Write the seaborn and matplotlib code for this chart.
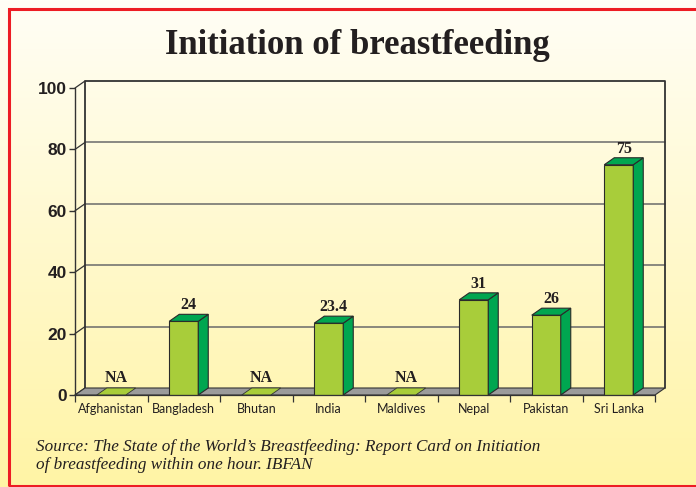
import numpy as np
import pandas as pd
import matplotlib
matplotlib.use("Agg")
import matplotlib.pyplot as plt
from matplotlib.patches import Polygon, Rectangle
import seaborn as sns

countries = ["Afghanistan", "Bangladesh", "Bhutan", "India", "Maldives", "Nepal", "Pakistan", "Sri Lanka"]
values = [None, 24, None, 23.4, None, 31, 26, 75]
value_labels = ["NA", "24", "NA", "23.4", "NA", "31", "26", "75"]
yticks = [0, 20, 40, 60, 80, 100]
title = "Initiation of breastfeeding"
source = ("Source: The State of the World\u2019s Breastfeeding: Report Card on Initiation\n"
          "of breastfeeding within one hour. IBFAN")

sns.set_theme(style="white")
plt.rcParams["font.family"] = ["Liberation Sans", "DejaVu Sans"]

W, H = 696, 487
fig = plt.figure(figsize=(W / 100, H / 100), dpi=100)

# background gradient
bg = fig.add_axes([0, 0, 1, 1], zorder=-10)
grad = np.linspace(0, 1, 256)[:, None]
c_top = np.array([255, 254, 246]) / 255
c_bot = np.array([255, 244, 165]) / 255
img = c_top[None, None, :] * (1 - grad[:, :, None]) + c_bot[None, None, :] * grad[:, :, None]
bg.imshow(img, aspect="auto", extent=[0, 1, 0, 1], origin="upper")
bg.set_xlim(0, 1); bg.set_ylim(0, 1)
bg.axis("off")
# red border (right side outside the picture)
bg.add_patch(Rectangle((9 / W, 1 - 486 / H), 2.0, (486 - 9) / H, fill=False,
                       edgecolor="#ED1C24", linewidth=2.2, transform=bg.transAxes, clip_on=False))

# main axes
x0, x1 = 75, 655
y0, y1 = 395, 88
ax = fig.add_axes([x0 / W, 1 - y0 / H, (x1 - x0) / W, (y0 - y1) / H])
ax.patch.set_alpha(0)

df = pd.DataFrame({"country": countries, "value": [0 if v is None else v for v in values]})
sns.barplot(data=df, x="country", y="value", color="#A8CD3A", saturation=1,
            width=0.4, edgecolor="#2a2a2a", linewidth=0.8, ax=ax, zorder=5)
ax.set_xlim(-0.5, len(countries) - 0.5)
ax.set_ylim(0, 100)

px_x = (x1 - x0) / len(countries)
px_y = (y0 - y1) / 100
dx = 10 / px_x
dy = 7 / px_y

xl, xr = -0.5, len(countries) - 0.5
edge = "#333333"
# floor
ax.add_patch(Polygon([(xl, 0), (xr, 0), (xr + dx, dy), (xl + dx, dy)], closed=True,
                     facecolor="#9B9B9B", edgecolor=edge, linewidth=0.8, zorder=2, clip_on=False))
# back wall gridlines
for t in yticks[1:-1]:
    ax.plot([xl + dx, xr + dx], [t + dy, t + dy], color="#6a6a6a", lw=1.1, zorder=1, clip_on=False)
for t in yticks:
    ax.plot([xl, xl + dx], [t, t + dy], color=edge, lw=0.9, zorder=1, clip_on=False)
# back wall frame
ax.plot([xl + dx, xl + dx, xr + dx, xr + dx], [dy, 100 + dy, 100 + dy, dy], color=edge, lw=1.3,
        zorder=1, clip_on=False)
# front axis
ax.plot([xl, xl], [0, 100], color=edge, lw=1.0, zorder=6, clip_on=False)

# 3D sides and tops
for p, v, lab in zip(ax.patches, values, value_labels):
    bx = p.get_x(); bw = p.get_width(); bh = p.get_height()
    if v is None:
        ax.add_patch(Polygon([(bx, 0), (bx + bw, 0), (bx + bw + dx, dy), (bx + dx, dy)], closed=True,
                             facecolor="#A8CD3A", edgecolor=edge, linewidth=0.6, zorder=3, clip_on=False))
        ax.text(bx + bw / 2 + dx / 2, dy + 0.8, lab, ha="center", va="bottom", fontsize=11.5,
                fontweight="bold", family="Liberation Serif", color="#231F20", zorder=7)
        continue
    ax.add_patch(Polygon([(bx + bw, 0), (bx + bw + dx, dy), (bx + bw + dx, bh + dy), (bx + bw, bh)],
                         closed=True, facecolor="#00A650", edgecolor="#2a2a2a", linewidth=0.8,
                         zorder=5, clip_on=False))
    ax.add_patch(Polygon([(bx, bh), (bx + bw, bh), (bx + bw + dx, bh + dy), (bx + dx, bh + dy)],
                         closed=True, facecolor="#00A650", edgecolor="#2a2a2a", linewidth=0.8,
                         zorder=5, clip_on=False))
    ax.text(bx + bw / 2 + dx / 2, bh + dy + 0.3, lab, ha="center", va="bottom", fontsize=11.5,
            fontweight="bold", family="Liberation Serif", color="#231F20", zorder=7)

for s in ax.spines.values():
    s.set_visible(False)
ax.set_xlabel(""); ax.set_ylabel("")
ax.set_yticks(yticks)
ax.set_yticklabels([str(t) for t in yticks], fontsize=12.5, fontweight="bold", color="#231F20")
ax.tick_params(axis="y", length=4, width=1, color=edge, pad=2, left=True)
# x ticks at category boundaries, labels at centers
ax.set_xticks(np.arange(len(countries)))
ax.set_xticklabels(countries, fontsize=9, family=["Lato", "DejaVu Sans"], color="#231F20")
ax.tick_params(axis="x", length=0, pad=6)
ax.set_xticks(np.arange(len(countries) + 1) - 0.5, minor=True)
ax.tick_params(axis="x", which="minor", length=5, width=0.9, color=edge, bottom=True)
ax.plot([xl, xr], [0, 0], color=edge, lw=0.9, zorder=6, clip_on=False)

fig.text(357 / W, 1 - 45 / H, title, ha="center", va="center", fontsize=25, fontweight="bold",
         family="Liberation Serif", color="#231F20")
fig.text(36 / W, 1 - 439 / H, source, ha="left", va="top", fontsize=12.3, style="italic",
         family="Liberation Serif", color="#231F20", linespacing=1.2)

fig.savefig("out.png", dpi=100)
